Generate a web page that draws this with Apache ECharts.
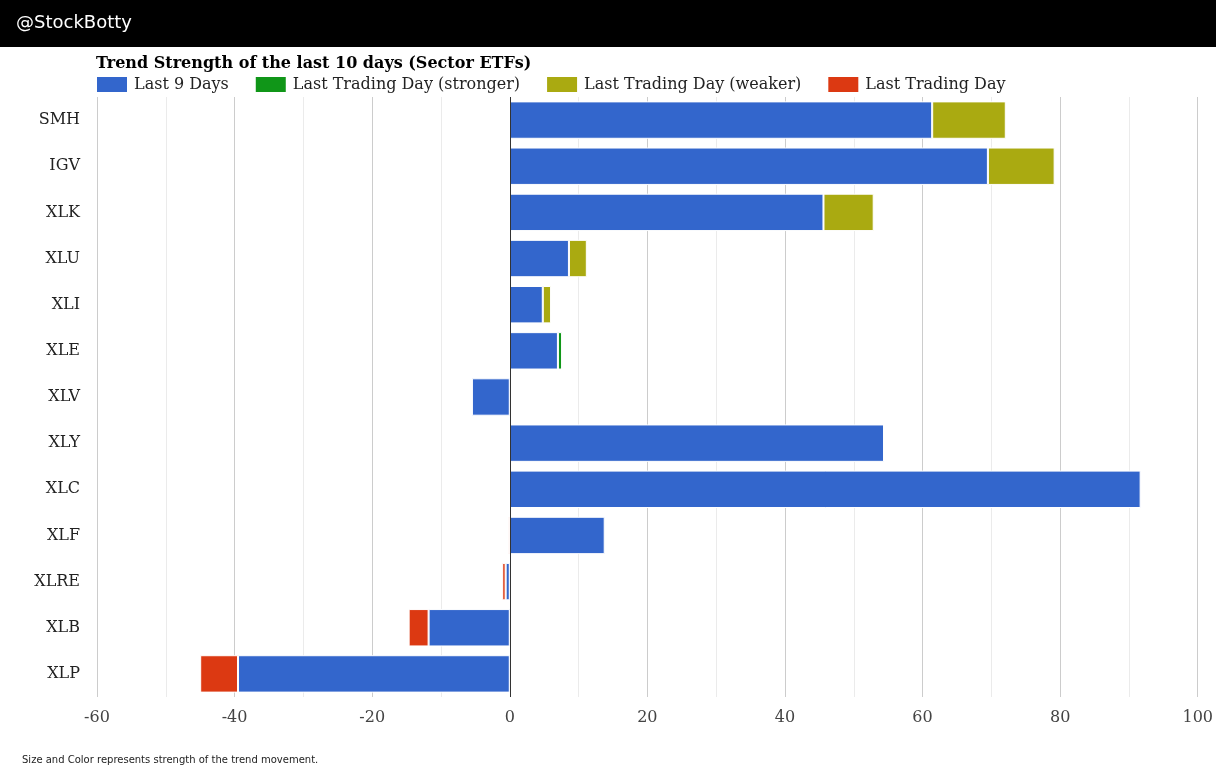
<!DOCTYPE html>
<html>
<head>
<meta charset="utf-8">
<script src="https://cdn.jsdelivr.net/npm/echarts@6/dist/echarts.min.js"></script>
<style>html,body{margin:0;padding:0;background:#fff}#c{width:1216px;height:769px}</style>
</head>
<body>
<div id="c"></div>
<script>
const categories = ['SMH','IGV','XLK','XLU','XLI','XLE','XLV','XLY','XLC','XLF','XLRE','XLB','XLP'];
const last9Days  = [61.4, 69.5, 45.6, 8.6, 4.8, 7.0, -5.5, 54.4, 91.7, 13.8, -0.6, -11.8, -39.5];
const stronger   = [null, null, null, null, null, 0.6, null, null, null, null, null, null, null];
const weaker     = [10.7, 9.7, 7.3, 2.6, 1.2, null, null, null, null, null, null, null, null];
const lastDay    = [null, null, null, null, null, null, null, null, -0.1, -0.2, -0.5, -2.9, -5.5];
const xTicks = {min: -60, max: 100, interval: 20};

const serif = 'DejaVu Serif';
const chart = echarts.init(document.getElementById('c'));
function bar(name, data, color, extra) {
  return Object.assign({
    name, type: 'bar', stack: 'total', data,
    barCategoryGap: '19%',
    itemStyle: {color, borderColor: '#fff', borderWidth: 1},
    emphasis: {disabled: true}
  }, extra || {});
}
chart.setOption({
  animation: false,
  textStyle: {fontFamily: serif},
  title: {
    text: 'Trend Strength of the last 10 days (Sector ETFs)',
    left: 91, top: 51,
    textStyle: {fontFamily: serif, fontSize: 16, fontWeight: 'bold', color: '#000'}
  },
  legend: {
    left: 95, top: 75, padding: 0,
    itemWidth: 32, itemHeight: 17, itemGap: 25,
    icon: 'rect',
    textStyle: {fontFamily: serif, fontSize: 16, color: '#222', padding: [0, 0, 0, 1]},
    data: ['Last 9 Days', 'Last Trading Day (stronger)', 'Last Trading Day (weaker)', 'Last Trading Day']
  },
  grid: {left: 97, right: 14, top: 97, bottom: 72, containLabel: false},
  xAxis: {
    type: 'value', min: xTicks.min, max: xTicks.max, interval: xTicks.interval,
    axisLine: {show: false}, axisTick: {show: false},
    axisLabel: {fontFamily: serif, fontSize: 16, color: '#444', margin: 13},
    splitLine: {lineStyle: {color: '#cccccc', width: 1}},
    minorTick: {show: false, splitNumber: 2},
    minorSplitLine: {show: true, lineStyle: {color: '#ebebeb', width: 1}}
  },
  yAxis: {
    type: 'category', data: categories, inverse: true,
    axisLine: {show: false}, axisTick: {show: false},
    axisLabel: {fontFamily: serif, fontSize: 16, color: '#222', margin: 17, padding: [5, 0, 0, 0]}
  },
  series: [
    bar('Last 9 Days', last9Days, '#3366cc', {
      markLine: {
        silent: true, symbol: 'none', label: {show: false},
        lineStyle: {color: '#333', width: 1, type: 'solid'},
        data: [{xAxis: 0}]
      }
    }),
    bar('Last Trading Day (stronger)', stronger, '#109618'),
    bar('Last Trading Day (weaker)', weaker, '#aaaa11'),
    bar('Last Trading Day', lastDay, '#dc3912')
  ],
  graphic: [
    {type: 'rect', left: 0, top: 0, shape: {width: 1216, height: 47}, style: {fill: '#000'}, z: 10},
    {type: 'text', left: 16, top: 14, z: 11,
     style: {text: '@StockBotty', fill: '#fff', font: '18px "DejaVu Sans"'}},
    {type: 'text', left: 22, top: 755, z: 11,
     style: {text: 'Size and Color represents strength of the trend movement.', fill: '#222', font: '10px "DejaVu Sans"'}}
  ]
});
</script>
</body>
</html>
